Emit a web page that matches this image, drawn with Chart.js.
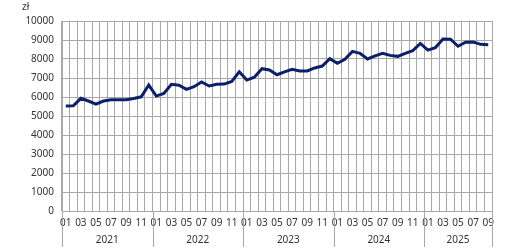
<!DOCTYPE html>
<html>
<head>
<meta charset="utf-8">
<script src="https://cdn.jsdelivr.net/npm/chart.js@4/dist/chart.umd.min.js"></script>
<style>
  html, body { margin: 0; padding: 0; background: #fff; }
  #wrap { width: 530px; height: 251px; position: relative; }
</style>
</head>
<body>
<div id="wrap"><canvas id="c"></canvas></div>
<script>
  const years = ["2021", "2022", "2023", "2024", "2025"];
  const months = ["01", "02", "03", "04", "05", "06", "07", "08", "09", "10", "11", "12"];
  const yTicks = [0, 1000, 2000, 3000, 4000, 5000, 6000, 7000, 8000, 9000, 10000];

  const wages2021 = [5530, 5540, 5930, 5790, 5630, 5790, 5860, 5860, 5850, 5920, 6010, 6630];
  const wages2022 = [6050, 6190, 6670, 6620, 6400, 6540, 6790, 6580, 6670, 6680, 6820, 7330];
  const wages2023 = [6890, 7040, 7490, 7420, 7170, 7320, 7460, 7370, 7370, 7530, 7630, 8020];
  const wages2024 = [7770, 7980, 8400, 8300, 8000, 8160, 8300, 8190, 8140, 8300, 8440, 8820];
  const wages2025 = [8470, 8600, 9050, 9040, 8670, 8880, 8890, 8770, 8750];

  const series = [wages2021, wages2022, wages2023, wages2024, wages2025];
  const labels = [];
  const yearOf = [];
  series.forEach((arr, yi) => {
    arr.forEach((v, mi) => {
      labels.push(months[mi]);
      yearOf.push(years[yi]);
    });
  });
  const values = series.flat();

  const FONT = "'Noto Sans', sans-serif";
  const TEXT = "#333333";
  const GRID = "#a8a8a8";

  // year row under the month labels, plus long separators at year boundaries
  const yearRow = {
    id: "yearRow",
    afterDraw(chart) {
      const ctx = chart.ctx;
      const x = chart.scales.x;
      const area = chart.chartArea;
      const half = (x.getPixelForValue(1) - x.getPixelForValue(0)) / 2;
      ctx.save();
      ctx.strokeStyle = GRID;
      ctx.lineWidth = 1;
      ctx.fillStyle = TEXT;
      ctx.font = "10px " + FONT;
      ctx.textAlign = "center";
      ctx.textBaseline = "middle";
      let start = 0;
      for (let i = 1; i <= labels.length; i++) {
        if (i === labels.length || yearOf[i] !== yearOf[start]) {
          const x0 = x.getPixelForValue(start) - half;
          const x1 = x.getPixelForValue(i - 1) + half;
          ctx.fillText(yearOf[start], (x0 + x1) / 2, area.bottom + 29);
          [x0, x1].forEach((px) => {
            const p = Math.round(px) + 0.5;
            ctx.beginPath();
            ctx.moveTo(p, area.bottom);
            ctx.lineTo(p, area.bottom + 36);
            ctx.stroke();
          });
          start = i;
        }
      }
      ctx.textAlign = "left";
      ctx.fillText("zł", area.left - 40, 7);
      ctx.restore();
    }
  };

  new Chart(document.getElementById("c"), {
    type: "line",
    data: {
      labels,
      datasets: [{
        data: values,
        borderColor: "#0c1f6b",
        borderWidth: 3,
        pointRadius: 0,
        tension: 0,
        fill: false
      }]
    },
    options: {
      responsive: true,
      maintainAspectRatio: false,
      animation: false,
      layout: { padding: { top: 21, right: 38, left: 0, bottom: 0 } },
      plugins: { legend: { display: false }, tooltip: { enabled: false } },
      scales: {
        x: {
          offset: true,
          grid: { offset: true, color: GRID, drawTicks: false },
          border: { color: GRID },
          afterFit: (s) => { s.height = 40; },
          ticks: {
            autoSkip: false,
            maxRotation: 0,
            padding: 6,
            color: TEXT,
            font: { family: FONT, size: 10 },
            callback: (v, i) => (i % 2 === 0 ? labels[i] : "")
          }
        },
        y: {
          min: 0,
          max: 10000,
          afterBuildTicks: (s) => { s.ticks = yTicks.map((v) => ({ value: v })); },
          afterFit: (s) => { s.width = 62; },
          grid: { color: GRID, drawTicks: false },
          border: { color: GRID },
          ticks: {
            padding: 8,
            color: TEXT,
            font: { family: FONT, size: 10 },
            callback: (v) => String(v)
          }
        }
      }
    },
    plugins: [yearRow]
  });
</script>
</body>
</html>
